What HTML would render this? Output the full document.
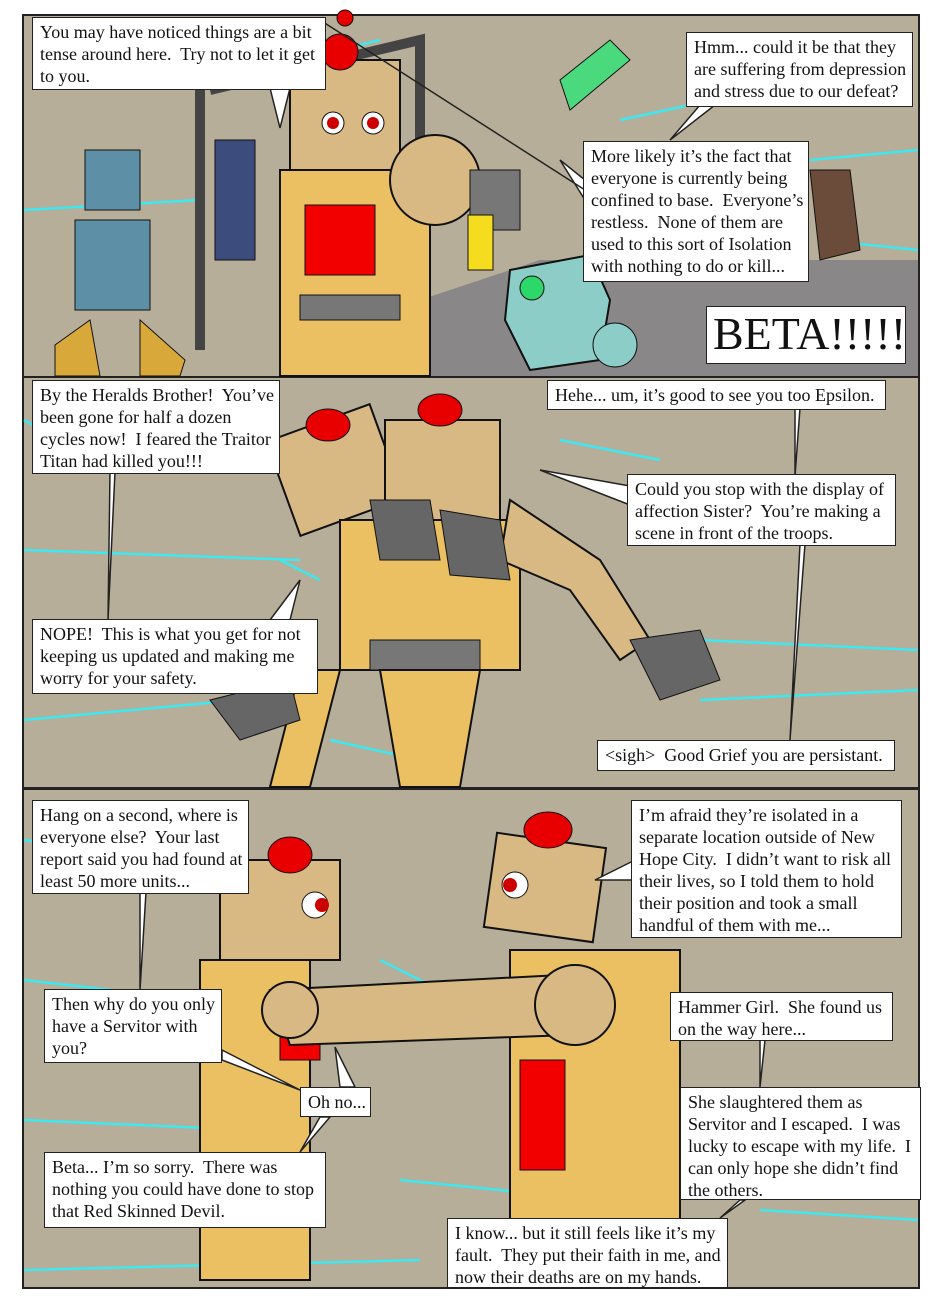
<!DOCTYPE html>
<html><head><meta charset="utf-8"><style>
body{margin:0;background:#fff;width:940px;height:1306px;position:relative;overflow:hidden;font-family:"Liberation Serif",serif}
.p{position:absolute;left:22px;width:898px;background:#b7ae99;border:2px solid #222;box-sizing:border-box;overflow:hidden}
.b{position:absolute;background:#fff;border:1.5px solid #222;box-sizing:border-box;font-size:18px;line-height:22px;padding:3px 7px;color:#111;white-space:nowrap;overflow:hidden}
svg{position:absolute;left:0;top:0}
</style></head><body>
<div class="p" style="top:14px;height:364px"></div>
<div class="p" style="top:376px;height:413px"></div>
<div class="p" style="top:788px;height:501px"></div>
<svg width="940" height="1306">
<g stroke="#3de8f0" stroke-width="2.5" fill="none">
<path d="M24 210 L200 200 M300 60 L380 40 M620 120 L690 105 M810 160 L918 150 M820 240 L918 250 M24 420 L60 440 M560 440 L660 460 M280 560 L320 580 M24 550 L300 560 M700 640 L918 650 M700 700 L918 690 M24 720 L240 700 M330 740 L420 760 M24 840 L60 845 M250 900 L300 880 M24 980 L200 1000 M380 960 L440 990 M640 960 L680 950 M24 1120 L250 1130 M400 1180 L600 1200 M760 1210 L918 1220 M24 1270 L420 1260"/>
</g>
<polygon points="420,300 540,260 918,260 918,376 420,376" fill="#8a8788"/>
<path d="M200 90 L200 350 M210 90 L420 40 L420 300" stroke="#444" stroke-width="10" fill="none"/>
<rect x="85" y="150" width="55" height="60" fill="#5d8fa6" stroke="#111"/>
<rect x="75" y="220" width="75" height="90" fill="#5d8fa6" stroke="#111"/>
<path d="M55 345 L90 320 L100 376 L55 376Z M140 320 L185 360 L180 376 L140 376Z" fill="#d9a83a" stroke="#111"/>
<rect x="215" y="140" width="40" height="120" fill="#3b4c7d" stroke="#111"/>
<rect x="290" y="60" width="110" height="110" fill="#d8b984" stroke="#111" stroke-width="2"/>
<circle cx="340" cy="52" r="18" fill="#e80000" stroke="#111"/>
<circle cx="333" cy="123" r="11" fill="#fff" stroke="#111"/><circle cx="333" cy="123" r="6" fill="#c00"/>
<circle cx="373" cy="123" r="11" fill="#fff" stroke="#111"/><circle cx="373" cy="123" r="6" fill="#c00"/>
<rect x="280" y="170" width="150" height="206" fill="#eac063" stroke="#111" stroke-width="2"/>
<rect x="305" y="205" width="70" height="70" fill="#f20000" stroke="#111"/>
<rect x="300" y="295" width="100" height="25" fill="#777" stroke="#111"/>
<circle cx="435" cy="180" r="45" fill="#d8b984" stroke="#111" stroke-width="2"/>
<rect x="470" y="170" width="50" height="60" fill="#777" stroke="#111"/>
<rect x="468" y="215" width="25" height="55" fill="#f5dc1e" stroke="#111"/>
<path d="M510 270 L590 255 L610 300 L600 360 L530 370 L505 320Z" fill="#8ccdc8" stroke="#111" stroke-width="2"/>
<circle cx="615" cy="345" r="22" fill="#8ccdc8" stroke="#111"/>
<circle cx="532" cy="288" r="12" fill="#2cd86a" stroke="#111"/>
<path d="M810 170 L850 170 L860 250 L820 260Z" fill="#6b4c3b" stroke="#111"/>
<path d="M560 80 L610 40 L630 60 L570 110Z" fill="#4bd97d" stroke="#111"/>
<rect x="280" y="420" width="110" height="100" fill="#d8b984" stroke="#111" stroke-width="2" transform="rotate(-20 335 470)"/>
<rect x="385" y="420" width="115" height="100" fill="#d8b984" stroke="#111" stroke-width="2"/>
<ellipse cx="328" cy="425" rx="22" ry="16" fill="#e80000" stroke="#111"/>
<ellipse cx="440" cy="410" rx="22" ry="16" fill="#e80000" stroke="#111"/>
<rect x="340" y="520" width="180" height="150" fill="#eac063" stroke="#111" stroke-width="2"/>
<rect x="370" y="640" width="110" height="30" fill="#777" stroke="#111"/>
<path d="M510 500 L600 560 L650 640 L620 660 L570 590 L500 560Z" fill="#d8b984" stroke="#111" stroke-width="2"/>
<path d="M630 640 L700 630 L720 680 L660 700Z" fill="#666" stroke="#111"/>
<path d="M300 670 L340 670 L310 787 L270 787Z M380 670 L480 670 L460 787 L400 787Z" fill="#eac063" stroke="#111" stroke-width="2"/>
<path d="M210 700 L290 680 L300 720 L240 740Z" fill="#666" stroke="#111"/>
<path d="M370 500 L430 500 L440 560 L380 560Z M440 510 L500 520 L510 580 L450 575Z" fill="#666" stroke="#111"/>
<rect x="220" y="860" width="120" height="100" fill="#d8b984" stroke="#111" stroke-width="2"/>
<ellipse cx="290" cy="855" rx="22" ry="18" fill="#e80000" stroke="#111"/>
<circle cx="315" cy="905" r="13" fill="#fff" stroke="#111"/><circle cx="322" cy="905" r="7" fill="#c00"/>
<rect x="200" y="960" width="110" height="320" fill="#eac063" stroke="#111" stroke-width="2"/>
<rect x="280" y="1020" width="40" height="40" fill="#f20000" stroke="#111"/>
<rect x="490" y="840" width="110" height="95" fill="#d8b984" stroke="#111" stroke-width="2" transform="rotate(8 545 887)"/>
<ellipse cx="548" cy="830" rx="24" ry="18" fill="#e80000" stroke="#111"/>
<circle cx="515" cy="885" r="13" fill="#fff" stroke="#111"/><circle cx="510" cy="885" r="7" fill="#c00"/>
<rect x="510" y="950" width="170" height="300" fill="#eac063" stroke="#111" stroke-width="2"/>
<rect x="520" y="1060" width="45" height="110" fill="#f20000" stroke="#111"/>
<path d="M270 990 L560 975 L570 1035 L290 1045Z" fill="#d8b984" stroke="#111" stroke-width="2"/>
<circle cx="290" cy="1010" r="28" fill="#d8b984" stroke="#111" stroke-width="2"/>
<circle cx="575" cy="1005" r="40" fill="#d8b984" stroke="#111" stroke-width="2"/>
<g stroke="#222" stroke-width="1.5" fill="#fff">
<polygon points="270,88 280,128 290,88"/>
<polygon points="700,105 670,140 715,105"/>
<polygon points="585,180 560,160 585,200"/>
<polygon points="110,472 108,620 115,472"/>
<polygon points="630,486 540,470 630,505"/>
<polygon points="795,408 795,476 800,408"/>
<polygon points="800,544 790,740 805,544"/>
<polygon points="270,620 300,580 290,620"/>
<polygon points="140,892 140,990 146,892"/>
<polygon points="635,860 595,880 635,880"/>
<polygon points="222,1050 300,1090 222,1060"/>
<polygon points="340,1087 335,1047 355,1087"/>
<polygon points="320,1117 300,1152 330,1117"/>
<polygon points="760,1040 760,1087 765,1040"/>
<polygon points="740,1200 720,1218 745,1200"/>
</g>
<line x1="320" y1="20" x2="585" y2="190" stroke="#222" stroke-width="1.5"/>
<circle cx="345" cy="18" r="8" fill="#e80000" stroke="#111"/>
</svg>
<div class="b" style="left:32px;top:17px;width:294px;height:73px">You may have noticed things are a bit<br>tense around here.&nbsp; Try not to let it get<br>to you.</div>
<div class="b" style="left:686px;top:32px;width:227px;height:75px">Hmm... could it be that they<br>are suffering from depression<br>and stress due to our defeat?</div>
<div class="b" style="left:583px;top:141px;width:226px;height:141px">More likely it’s the fact that<br>everyone is currently being<br>confined to base.&nbsp; Everyone’s<br>restless.&nbsp; None of them are<br>used to this sort of Isolation<br>with nothing to do or kill...</div>
<div class="b" style="left:706px;top:306px;width:200px;height:58px;font-size:46px;line-height:50px;padding:2px 6px">BETA!!!!!</div>
<div class="b" style="left:32px;top:380px;width:248px;height:94px">By the Heralds Brother!&nbsp; You’ve<br>been gone for half a dozen<br>cycles now!&nbsp; I feared the Traitor<br>Titan had killed you!!!</div>
<div class="b" style="left:547px;top:380px;width:339px;height:30px">Hehe... um, it’s good to see you too Epsilon.</div>
<div class="b" style="left:627px;top:474px;width:269px;height:72px">Could you stop with the display of<br>affection Sister?&nbsp; You’re making a<br>scene in front of the troops.</div>
<div class="b" style="left:32px;top:619px;width:286px;height:75px">NOPE!&nbsp; This is what you get for not<br>keeping us updated and making me<br>worry for your safety.</div>
<div class="b" style="left:597px;top:740px;width:298px;height:31px">&lt;sigh&gt;&nbsp; Good Grief you are persistant.</div>
<div class="b" style="left:32px;top:800px;width:217px;height:94px">Hang on a second, where is<br>everyone else?&nbsp; Your last<br>report said you had found at<br>least 50 more units...</div>
<div class="b" style="left:631px;top:800px;width:271px;height:138px">I’m afraid they’re isolated in a<br>separate location outside of New<br>Hope City.&nbsp; I didn’t want to risk all<br>their lives, so I told them to hold<br>their position and took a small<br>handful of them with me...</div>
<div class="b" style="left:44px;top:989px;width:178px;height:74px">Then why do you only<br>have a Servitor with<br>you?</div>
<div class="b" style="left:670px;top:992px;width:223px;height:49px">Hammer Girl.&nbsp; She found us<br>on the way here...</div>
<div class="b" style="left:300px;top:1087px;width:71px;height:30px">Oh no...</div>
<div class="b" style="left:680px;top:1087px;width:241px;height:113px">She slaughtered them as<br>Servitor and I escaped.&nbsp; I was<br>lucky to escape with my life.&nbsp; I<br>can only hope she didn’t find<br>the others.</div>
<div class="b" style="left:44px;top:1152px;width:282px;height:76px">Beta... I’m so sorry.&nbsp; There was<br>nothing you could have done to stop<br>that Red Skinned Devil.</div>
<div class="b" style="left:447px;top:1218px;width:281px;height:70px">I know... but it still feels like it’s my<br>fault.&nbsp; They put their faith in me, and<br>now their deaths are on my hands.</div>
</body></html>
